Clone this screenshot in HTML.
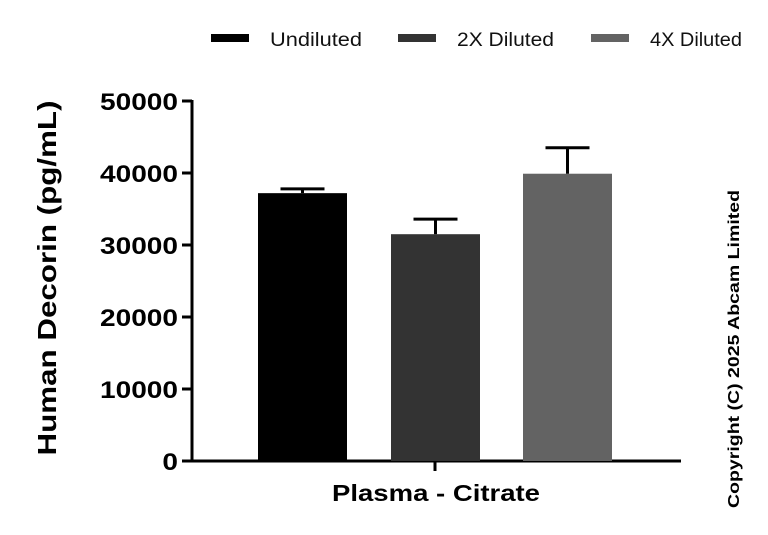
<!DOCTYPE html>
<html><head><meta charset="utf-8"><style>
body{margin:0;background:#fff;}
svg{display:block;font-family:"Liberation Sans",sans-serif;}
</style></head><body>
<svg id="chart" width="768" height="535" viewBox="0 0 768 535">
<g id="legend"></g>
<g id="axes"></g>
<g id="bars"></g>
<text x="0" y="0" transform="translate(56,278) rotate(-90)" text-anchor="middle" font-size="26" font-weight="bold" textLength="355" lengthAdjust="spacingAndGlyphs">Human Decorin (pg/mL)</text>
<text x="436" y="501" text-anchor="middle" font-size="23" font-weight="bold" textLength="208" lengthAdjust="spacingAndGlyphs">Plasma - Citrate</text>
<text x="0" y="0" transform="translate(739,349) rotate(-90)" text-anchor="middle" font-size="16" font-weight="bold" textLength="318" lengthAdjust="spacingAndGlyphs">Copyright (C) 2025 Abcam Limited</text>
</svg>
<script>
const categories = ["Undiluted", "2X Diluted", "4X Diluted"];
const means = [37200, 31500, 39900];
const errors = [600, 2100, 3600];
const yTicks = [0, 10000, 20000, 30000, 40000, 50000];
const colors = ["#000000", "#333333", "#636363"];

const NS = "http://www.w3.org/2000/svg";
function y(v){ return 461 - v * 0.0072; }
function mk(tag, attrs, parent){ const e=document.createElementNS(NS,tag); for(const k in attrs) e.setAttribute(k,attrs[k]); parent.appendChild(e); return e; }
const axes=document.getElementById('axes'), bars=document.getElementById('bars'), legend=document.getElementById('legend');

const ya=mk('line',{x1:192,y1:y(50000)-1,x2:192,y2:462,stroke:'#000','stroke-width':3},axes);


const xa=mk('line',{x1:190,y1:461,x2:681,y2:461,stroke:'#000','stroke-width':3},axes);


const xt=mk('line',{x1:435,y1:461,x2:435,y2:471,stroke:'#000','stroke-width':3},axes);



yTicks.forEach(t=>{
  const l=mk('line',{x1:182,y1:y(t),x2:192,y2:y(t),stroke:'#000','stroke-width':3},axes);
  
  
  const s=String(t);
  const tx=mk('text',{x:178,y:y(t)+9,'text-anchor':'end','font-size':24,'font-weight':'bold',textLength:s.length*15.6,lengthAdjust:'spacingAndGlyphs'},axes);
  tx.textContent=s;
  
  
});

const barX=[258,391,523], bw=89;
const legW=[92,97,92];
categories.forEach((c,i)=>{
  const cx=barX[i]+bw/2;
  const r=mk('rect',{x:barX[i],y:y(means[i]),width:bw,height:461-y(means[i]),fill:colors[i]},bars);
  
  
  const g=mk('g',{stroke:'#000','stroke-width':3},bars);
  
  
  mk('line',{x1:cx,y1:y(means[i]),x2:cx,y2:y(means[i]+errors[i])},g);
  mk('line',{x1:cx-22,y1:y(means[i]+errors[i]),x2:cx+22,y2:y(means[i]+errors[i])},g);

  const lx=[211,398,591][i];
  const lr=mk('rect',{x:lx,y:34,width:38,height:8,fill:colors[i]},legend);
  
  
  const lt=mk('text',{x:lx+59,y:46,'font-size':19,fill:'#111',textLength:legW[i],lengthAdjust:'spacingAndGlyphs'},legend);
  lt.textContent=c;
  
  
});
</script>
</body></html>
